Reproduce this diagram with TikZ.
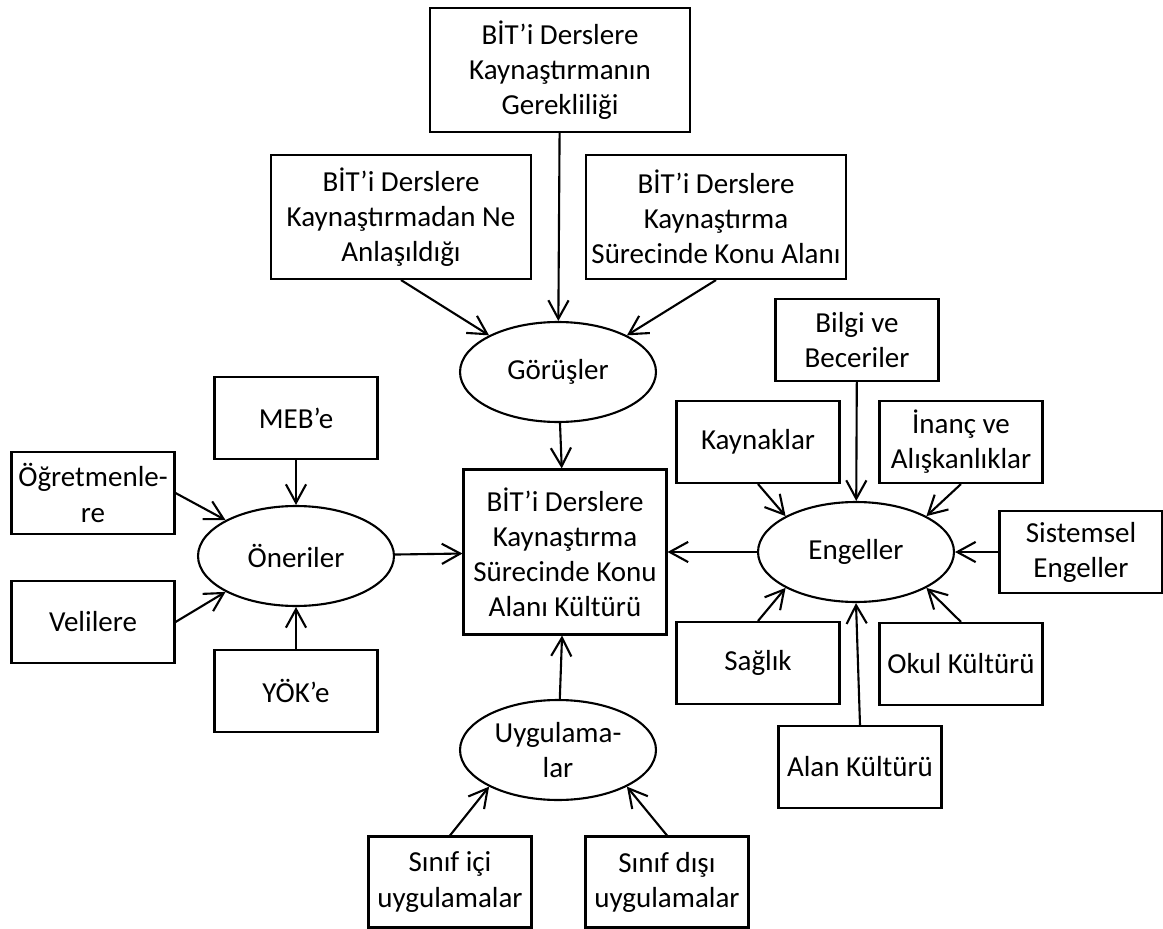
\documentclass[tikz,border=0pt]{standalone}
\usepackage{fontspec}
\setmainfont{Carlito}
\usetikzlibrary{shapes.geometric,arrows.meta}

\begin{document}
\begin{tikzpicture}[x=0.02cm,y=-0.02cm,
    font=\fontsize{16.5}{20}\selectfont,
    kutu/.style={draw,line width=1.2pt,align=center,inner sep=0pt},
    buyuk/.style={kutu,minimum width=5.2cm,minimum height=2.48cm},
    kucuk/.style={kutu,minimum width=3.26cm,minimum height=1.64cm},
    tema/.style={draw,ellipse,line width=1.2pt,align=center,inner sep=0pt,
      minimum width=3.92cm,minimum height=2cm},
    ok/.style={line width=1.2pt,-{Straight Barb[length=10.5pt,width=11.5pt]}}]
  \useasboundingbox (0,0) rectangle (1163,929);
  \node[buyuk] (gerek) at (560,70) {BİT’i Derslere\\Kaynaştırmanın\\Gerekliliği};
  \node[buyuk] (anlam) at (401,217) {BİT’i Derslere\\Kaynaştırmadan Ne\\Anlaşıldığı};
  \node[buyuk] (konu) at (716,217) {BİT’i Derslere\\Kaynaştırma\\Sürecinde Konu Alanı};
  \node[tema] (gor) at (558,372) {Görüşler};
  \node[kutu,minimum width=4.06cm,minimum height=3.3cm] (kultur) at (565,552)
    {BİT’i Derslere\\Kaynaştırma\\Sürecinde Konu\\Alanı Kültürü};
  \node[tema] (oner) at (296,556) {Öneriler};
  \node[kucuk] (meb) at (296,418) {MEB’e};
  \node[kucuk] (ogr) at (93,493) {Öğretmenle-\\re};
  \node[kucuk] (veli) at (93,622) {Velilere};
  \node[kucuk] (yok) at (296,691) {YÖK’e};
  \node[tema] (uyg) at (558,750) {Uygulama-\\lar};
  \node[kucuk,minimum height=1.82cm] (sinic) at (450,882) {Sınıf içi\\uygulamalar};
  \node[kucuk,minimum height=1.82cm] (sindis) at (667,882) {Sınıf dışı\\uygulamalar};
  \node[tema] (eng) at (856,552) {Engeller};
  \node[kucuk] (bilgi) at (857,340) {Bilgi ve\\Beceriler};
  \node[kucuk] (kay) at (758,442) {Kaynaklar};
  \node[kucuk] (inanc) at (961,442) {İnanç ve\\Alışkanlıklar};
  \node[kucuk] (sis) at (1081,552) {Sistemsel\\Engeller};
  \node[kucuk] (sag) at (758,663) {Sağlık};
  \node[kucuk] (okul) at (961,664) {Okul Kültürü};
  \node[kucuk] (alan) at (860,767) {Alan Kültürü};

  \draw[ok] (gerek) -- (gor);
  \draw[ok] (anlam.south) -- (gor.152);
  \draw[ok] (konu.south) -- (gor.28);
  \draw[ok] (gor) -- (kultur);
  \draw[ok] (meb) -- (oner);
  \draw[ok] (yok) -- (oner);
  \draw[ok] (ogr.east) -- (oner.153);
  \draw[ok] (veli.east) -- (oner.207);
  \draw[ok] (oner) -- (kultur);
  \draw[ok] (uyg) -- (kultur);
  \draw[ok] (sinic.north) -- (uyg.208);
  \draw[ok] (sindis.north) -- (uyg.332);
  \draw[ok] (eng) -- (kultur);
  \draw[ok] (bilgi) -- (eng);
  \draw[ok] (kay.south) -- (eng.153);
  \draw[ok] (inanc.south) -- (eng.27);
  \draw[ok] (sis) -- (eng);
  \draw[ok] (sag.north) -- (eng.207);
  \draw[ok] (okul.north) -- (eng.333);
  \draw[ok] (alan.north) -- (eng.south);
\end{tikzpicture}
\end{document}
